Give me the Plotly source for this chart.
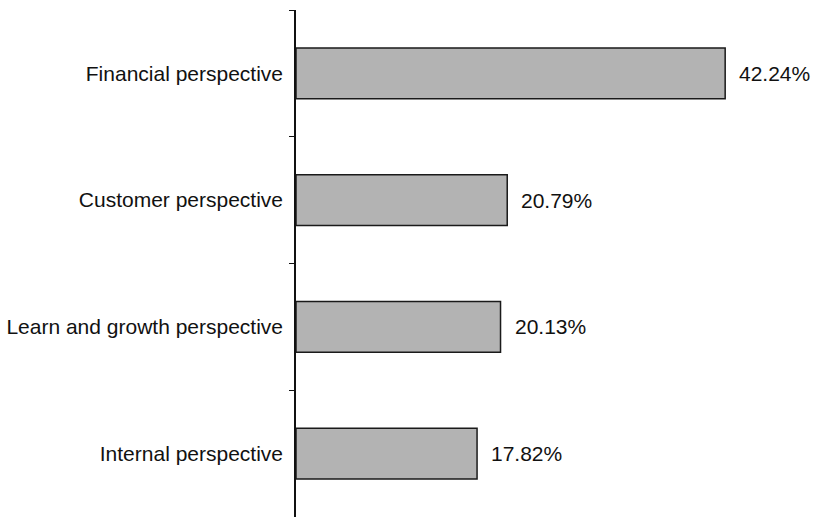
import plotly.graph_objects as go

# Share of each balanced-scorecard perspective (%)
categories = ["Financial perspective", "Customer perspective",
              "Learn and growth perspective", "Internal perspective"]
shares = [42.24, 20.79, 20.13, 17.82]
labels = [f"{v:.2f}%" for v in shares]

FONT = "Liberation Sans, Arial, Helvetica, sans-serif"

fig = go.Figure()
fig.add_trace(go.Bar(
    x=shares,
    y=categories,
    orientation="h",
    width=0.4,
    marker=dict(color="#b3b3b3", line=dict(color="#1a1a1a", width=1.5)),
    hoverinfo="skip",
))

# value labels just past the end of each bar
for cat, v, lab in zip(categories, shares, labels):
    fig.add_annotation(
        x=v, y=cat, text=lab, showarrow=False,
        xanchor="left", yanchor="middle", xshift=12,
        font=dict(family=FONT, size=21, color="#111"),
    )

fig.update_layout(
    width=813, height=517,
    margin=dict(l=296, r=10, t=10, b=0),
    paper_bgcolor="white",
    plot_bgcolor="white",
    showlegend=False,
    font=dict(family=FONT, size=21, color="#111"),
    xaxis=dict(range=[0, 49.9], visible=False, fixedrange=True),
    yaxis=dict(
        type="category",
        categoryorder="array",
        categoryarray=categories[::-1],
        tickson="boundaries",
        ticks="outside",
        ticklen=5,
        tickwidth=1,
        tickcolor="#111",
        showline=True,
        linecolor="#111",
        linewidth=1.5,
        showgrid=False,
        zeroline=False,
        ticklabelstandoff=7,
    ),
)

fig.write_html("out.html")
